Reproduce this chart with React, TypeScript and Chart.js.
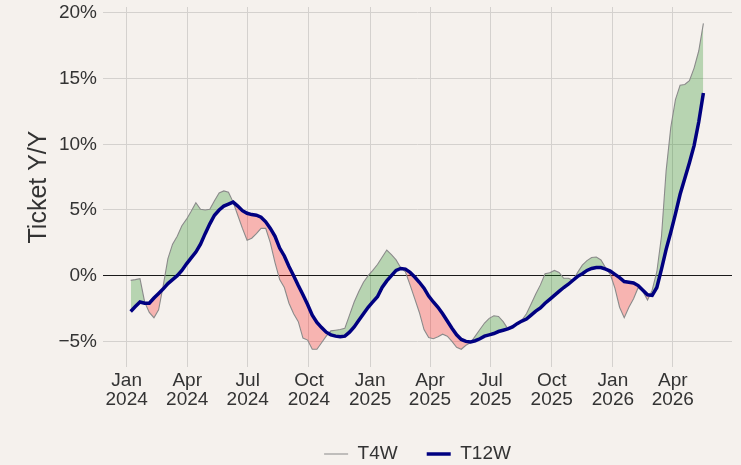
import React, { useEffect, useRef } from 'react';
import { Chart, registerables } from 'chart.js';

Chart.register(...registerables);

// Weekly series (first week ending 2024-01-07), values in percent
const firstWeek = '2024-01-07';

const t4w = [
  -0.36, -0.3, -0.23, -2.0, -2.8, -3.2, -2.6, -0.74, 1.3, 2.4,
  3.0, 3.8, 4.3, 4.9, 5.55, 5.05, 5.0, 5.05, 5.7, 6.3,
  6.45, 6.35, 5.6, 4.6, 3.6, 2.7, 2.85, 3.2, 3.6, 3.6,
  2.5, 1.0, -0.3, -0.9, -2.1, -2.9, -3.5, -4.75, -4.9, -5.6,
  -5.6, -5.1, -4.6, -4.2, -4.15, -4.1, -4.0, -3.0, -2.0, -1.2,
  -0.5, 0.0, 0.4, 0.85, 1.4, 1.95, 1.6, 1.2, 0.6, 0.3,
  -0.7, -1.75, -2.8, -4.1, -4.7, -4.8, -4.65, -4.45, -4.6, -5.0,
  -5.45, -5.6, -5.3, -5.1, -4.6, -4.1, -3.6, -3.25, -3.05, -3.1,
  -3.5, -4.05, -3.9, -3.65, -3.4, -2.9, -2.15, -1.4, -0.7, 0.15,
  0.22, 0.4, 0.25, -0.2, -0.2, -0.35, 0.25, 0.8, 1.15, 1.38,
  1.42, 1.2, 0.6, 0.1, -0.95, -2.4, -3.2, -2.4, -1.75, -0.9,
  -1.2, -1.85, -1.1, 0.3, 3.0, 8.0, 11.3, 13.4, 14.5, 14.55,
  14.85, 15.8, 17.1, 19.2,
];

const t12w = [
  -2.72, -2.35, -2.0, -2.1, -2.1, -1.7, -1.35, -1.0, -0.6, -0.3,
  0.0, 0.4, 0.9, 1.35, 1.8, 2.4, 3.2, 3.95, 4.6, 5.0,
  5.3, 5.45, 5.6, 5.3, 4.95, 4.75, 4.65, 4.6, 4.45, 4.1,
  3.6, 3.0, 2.1, 1.5, 0.7, 0.0, -0.75, -1.45, -2.2, -3.0,
  -3.55, -3.95, -4.3, -4.5, -4.6, -4.65, -4.6, -4.3, -3.9, -3.4,
  -2.9, -2.4, -2.0, -1.6, -0.9, -0.4, 0.0, 0.4, 0.55, 0.5,
  0.25, -0.1, -0.5, -0.95, -1.55, -2.0, -2.4, -2.9, -3.45, -4.0,
  -4.5, -4.85, -5.0, -5.05, -4.95, -4.8, -4.6, -4.5, -4.4, -4.25,
  -4.15, -4.05, -3.9, -3.65, -3.45, -3.3, -3.0, -2.7, -2.45, -2.1,
  -1.8, -1.5, -1.2, -0.9, -0.65, -0.35, -0.05, 0.15, 0.4, 0.55,
  0.62, 0.62, 0.5, 0.35, 0.1, -0.15, -0.45, -0.5, -0.55, -0.75,
  -1.1, -1.45, -1.5, -0.9, 0.5, 2.0, 3.3, 4.7, 6.2, 7.4,
  8.6, 9.9, 11.7, 13.9,
];

const xTickDates = [
  '2024-01-01', '2024-04-01', '2024-07-01', '2024-10-01',
  '2025-01-01', '2025-04-01', '2025-07-01', '2025-10-01',
  '2026-01-01', '2026-04-01',
];
const xTickMonths = ['Jan', 'Apr', 'Jul', 'Oct', 'Jan', 'Apr', 'Jul', 'Oct', 'Jan', 'Apr'];
const xTickYears = ['2024', '2024', '2024', '2024', '2025', '2025', '2025', '2025', '2026', '2026'];

const yTicks = [-5, 0, 5, 10, 15, 20];

const ORIGIN = Date.UTC(2024, 0, 1);
const DAY = 86400000;
const toDay = (iso: string) => {
  const [y, m, d] = iso.split('-').map(Number);
  return (Date.UTC(y, m - 1, d) - ORIGIN) / DAY;
};

const FONT = "'Liberation Sans', Arial, Helvetica, sans-serif";
const TEXT = '#333333';
const GRID = '#d4d1ce';
const BG = '#f5f1ed';

export default function App() {
  const ref = useRef<HTMLCanvasElement | null>(null);

  useEffect(() => {
    if (!ref.current) return;
    const start = toDay(firstWeek);
    const weeks = t4w.map((_, i) => start + 7 * i);
    const tickDays = xTickDates.map(toDay);

    const legendPlacer = {
      id: 'legendPlacer',
      afterLayout(chart: any) {
        const lg = chart.legend;
        if (!lg) return;
        const ca = chart.chartArea;
        const pad = lg.options.labels.padding;
        const h = lg.height;
        lg.left = ca.left;
        lg.right = ca.right;
        lg.width = ca.right - ca.left;
        lg.top = 454 - pad - 9.5;
        lg.bottom = lg.top + h;
      },
    };

    const chart = new Chart(ref.current, {
      type: 'line',
      data: {
        datasets: [
          {
            label: 'T4W',
            data: weeks.map((x, i) => ({ x, y: t4w[i] })),
            borderColor: '#8a8a8a',
            borderWidth: 1.1,
            pointRadius: 0,
            tension: 0,
            order: 2,
            fill: {
              target: 1,
              above: 'rgba(0,128,0,0.25)',
              below: 'rgba(255,0,0,0.25)',
            },
          },
          {
            label: 'T12W',
            data: weeks.map((x, i) => ({ x, y: t12w[i] })),
            borderColor: '#000080',
            borderWidth: 3.5,
            pointRadius: 0,
            tension: 0,
            order: 1,
            fill: false,
          },
        ],
      },
      options: {
        animation: false,
        responsive: true,
        maintainAspectRatio: false,
        layout: {
          autoPadding: false,
          padding: { left: 0, right: 9, top: 7, bottom: 0 },
        },
        scales: {
          x: {
            type: 'linear',
            min: -35.6,
            max: 910,
            afterBuildTicks: (s: any) => {
              s.ticks = tickDays.map((v) => ({ value: v }));
            },
            afterFit: (s: any) => {
              s.height = 40;
              s.paddingLeft = 0;
              s.paddingRight = 0;
              s.paddingTop = 0;
              s.paddingBottom = 0;
            },
            grid: { color: GRID, lineWidth: 1, drawTicks: false },
            border: { display: false },
            ticks: {
              padding: 4,
              autoSkip: false,
              maxRotation: 0,
              color: TEXT,
              font: { family: FONT, size: 19, lineHeight: 1.02 },
              callback: (_v: any, i: number) => [xTickMonths[i], xTickYears[i]],
            },
          },
          y: {
            type: 'linear',
            min: -6.95,
            max: 20.45,
            afterBuildTicks: (s: any) => {
              s.ticks = yTicks.map((v) => ({ value: v }));
            },
            afterFit: (s: any) => {
              s.width = 103;
              s.paddingLeft = 0;
              s.paddingRight = 0;
              s.paddingTop = 0;
              s.paddingBottom = 0;
            },
            grid: {
              color: (c: any) => (c.tick && c.tick.value === 0 ? '#1a1a1a' : GRID),
              lineWidth: 1,
              drawTicks: false,
            },
            border: { display: false },
            ticks: {
              padding: 6,
              color: TEXT,
              font: { family: FONT, size: 19 },
              callback: (v: any) => (v < 0 ? '\u2212' + Math.abs(v) : String(v)) + '%',
            },
            title: {
              display: true,
              text: 'Ticket Y/Y',
              color: TEXT,
              font: { family: FONT, size: 25 },
              padding: { top: 24, bottom: 0 },
            },
          },
        },
        plugins: {
          tooltip: { enabled: false },
          legend: {
            display: true,
            position: 'bottom',
            labels: {
              usePointStyle: true,
              pointStyleWidth: 24,
              padding: 29,
              color: TEXT,
              font: { family: FONT, size: 19 },
              generateLabels: (c: any) =>
                c.data.datasets.map((ds: any, i: number) => ({
                  text: ds.label,
                  fillStyle: 'rgba(0,0,0,0)',
                  strokeStyle: ds.borderColor,
                  lineWidth: ds.borderWidth,
                  pointStyle: 'line',
                  hidden: false,
                  datasetIndex: i,
                  fontColor: TEXT,
                })),
            },
          },
        },
      },
      plugins: [legendPlacer],
    } as any);

    return () => chart.destroy();
  }, []);

  return (
    <div
      style={{
        position: 'fixed',
        left: 0,
        top: 0,
        width: 741,
        height: 465,
        background: BG,
      }}
    >
      <canvas ref={ref} style={{ display: 'block' }} />
    </div>
  );
}
